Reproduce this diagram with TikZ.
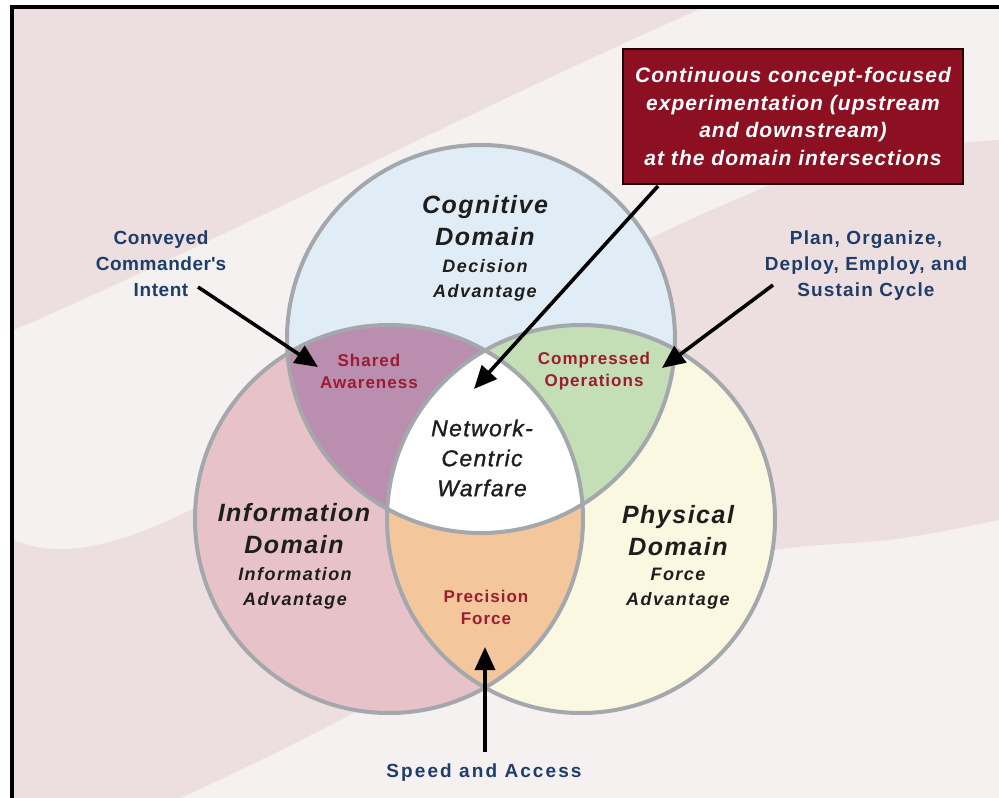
\documentclass[tikz,border=0pt]{standalone}
\usepackage{fontspec}
\setmainfont{Liberation Sans}
\usetikzlibrary{arrows.meta}
\definecolor{bgpink}{HTML}{EDDFDF}
\definecolor{bgwhite}{HTML}{F4F1F0}
\definecolor{cogblue}{HTML}{E1EDF6}
\definecolor{infopink}{HTML}{E7C3C9}
\definecolor{physyel}{HTML}{FBF8E1}
\definecolor{purp}{HTML}{B98EAE}
\definecolor{grn}{HTML}{C4DEB6}
\definecolor{orng}{HTML}{F4C69C}
\definecolor{ringgray}{HTML}{A4A8AC}
\definecolor{boxred}{HTML}{8C1022}
\definecolor{lblred}{HTML}{9E1B32}
\definecolor{navy}{HTML}{1E3D6B}
\definecolor{txt}{HTML}{1E1E1E}
\newcommand\lsp[1]{\addfontfeatures{LetterSpace=#1}}
\begin{document}
\begin{tikzpicture}[x=1pt,y=-1pt,
  ring/.style={draw=ringgray, line width=4pt},
  arr/.style={-{Triangle[length=23pt,width=20pt]}, line width=3.6pt, black},
  dtitle/.style={font=\fontsize{25}{32}\selectfont\bfseries\itshape\lsp{6}, text=txt, align=center, inner sep=0pt},
  dsub/.style={font=\fontsize{18}{25}\selectfont\bfseries\itshape\lsp{8}, text=txt, align=center, inner sep=0pt},
  redlbl/.style={font=\fontsize{17}{22}\selectfont\bfseries\lsp{6}, text=lblred, align=center, inner sep=0pt},
  bluelbl/.style={text=navy, align=center, inner sep=0pt}
]
\useasboundingbox (0,0) rectangle (999,798);
% frame and background
\fill[white] (0,0) rectangle (999,798);
\fill[bgwhite] (14,9) rectangle (999,798);
\fill[bgpink] (14,9) -- (700,9) .. controls (450,120) and (200,250) .. (14,330) -- cycle;
\fill[bgpink] (14,540) .. controls (150,600) and (400,350) .. (700,215)
   .. controls (850,150) .. (999,140) -- (999,520)
   .. controls (900,540) .. (820,545) .. controls (600,560) and (400,700) .. (180,798)
   -- (14,798) -- cycle;
\fill[black] (10,5) rectangle (999,9);
\fill[black] (10,5) rectangle (14,798);
% circles
\coordinate (cC) at (481,339);
\coordinate (cI) at (389,519);
\coordinate (cP) at (581,519);
\fill[cogblue] (cC) circle[radius=194pt];
\fill[infopink] (cI) circle[radius=194pt];
\fill[physyel] (cP) circle[radius=194pt];
\begin{scope}
  \clip (cC) circle[radius=194pt];
  \fill[purp] (cI) circle[radius=194pt];
  \fill[grn] (cP) circle[radius=194pt];
\end{scope}
\begin{scope}
  \clip (cI) circle[radius=194pt];
  \fill[orng] (cP) circle[radius=194pt];
  \clip (cC) circle[radius=194pt];
  \fill[white] (cP) circle[radius=194pt];
\end{scope}
\draw[ring] (cC) circle[radius=194pt];
\draw[ring] (cI) circle[radius=194pt];
\draw[ring] (cP) circle[radius=194pt];
% domain texts
\node[dtitle] (cogt) at (485,221) {Cognitive\\Domain};
\node[dsub] (cogs) at (485,280) {Decision\\Advantage};
\node[dtitle] (inft) at (294,529) {Information\\Domain};
\node[dsub] (infs) at (295,588) {Information\\Advantage};
\node[dtitle] (phyt) at (678,531) {Physical\\Domain};
\node[dsub] (phys) at (678,589) {Force\\Advantage};
\node[font=\fontsize{23}{30}\selectfont\itshape\addfontfeatures{FakeBold=1.2,LetterSpace=6}, text=txt, align=center, inner sep=0pt] (ncw) at (482,458) {Network-\\Centric\\Warfare};
% intersection labels
\node[redlbl] (sa) at (369,371) {Shared\\Awareness};
\node[redlbl] (co) at (594,371) {Compressed\\Operations};
\node[redlbl] (pf) at (486,607) {Precision\\Force};
% outer labels
\node[bluelbl, font=\fontsize{19}{26}\selectfont\bfseries\lsp{3}] (cci) at (161,264) {Conveyed\\Commander\textquotesingle s\\Intent};
\node[bluelbl, font=\fontsize{19}{26}\selectfont\bfseries\lsp{6}] (plan) at (866,266) {Plan, Organize,\\Deploy, Employ, and\\Sustain Cycle};
\node[bluelbl, font=\fontsize{19}{26}\selectfont\bfseries\lsp{11}] (speed) at (484,773) {Speed and Access};
% red box
\node[fill=boxred, draw=black!85!red, line width=2.5pt, minimum width=340pt, minimum height=135pt,
      font=\fontsize{21}{27.7}\selectfont\bfseries\itshape\lsp{5}, text=white, align=center, inner sep=0pt] (box) at (793,116.5)
  {Continuous concept-focused\\experimentation (upstream\\and downstream)\\at the domain intersections};
% arrows
\coordinate (s1) at (198,287); \coordinate (t1) at (318,367);
\coordinate (s2) at (773,285); \coordinate (t2) at (662,368);
\coordinate (s3) at (658,186); \coordinate (t3) at (474,389);
\coordinate (s4) at (485,752); \coordinate (t4) at (485,647);
\draw[arr] (s1) -- (t1);
\draw[arr] (s2) -- (t2);
\draw[arr] (s3) -- (t3);
\draw[arr] (s4) -- (t4);
\end{tikzpicture}
\end{document}
